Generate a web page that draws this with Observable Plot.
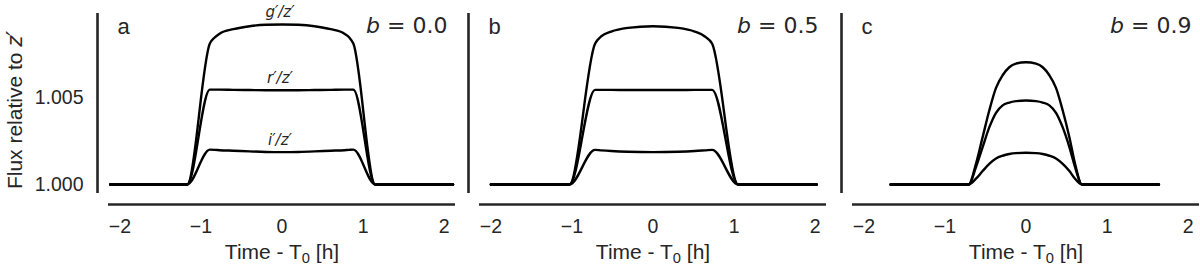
<!DOCTYPE html>
<html>
<head>
<meta charset="utf-8">
<script src="https://cdn.jsdelivr.net/npm/d3@7"></script>
<script src="https://cdn.jsdelivr.net/npm/@observablehq/plot@0.6"></script>
<style>
  html, body { margin: 0; padding: 0; background: #fff; }
  #chart { position: relative; width: 1200px; height: 269px; overflow: hidden; background: #fff; }
  #chart svg { position: absolute; top: 0; }
</style>
</head>
<body>
<div id="chart"></div>
<script>
// ---- tick labels / categories ----
const xTicks = [-2, -1, 0, 1, 2];
const yTicks = [1.000, 1.005];
const seriesNames = ["g′/z′", "r′/z′", "i′/z′"];
const panelLetters = ["a", "b", "c"];
const impactParams = ["0.0", "0.5", "0.9"];

// ---- panel a (b = 0.0) ----
const tA = [-2.12, -1.17, -0.89, -0.83, -0.77, -0.6, -0.4, -0.2, 0, 0.2, 0.4, 0.6, 0.77, 0.83, 0.88, 1.15, 2.11];
const gA = [1.0000, 1.0000, 1.00810, 1.00845, 1.00867, 1.00893, 1.00910, 1.00918, 1.00920, 1.00918, 1.00910, 1.00893, 1.00867, 1.00845, 1.00810, 1.0000, 1.0000];
const rA = [1.0000, 1.0000, 1.00545, 1.00545, 1.00545, 1.00544, 1.00543, 1.00542, 1.00542, 1.00542, 1.00543, 1.00544, 1.00545, 1.00545, 1.00545, 1.0000, 1.0000];
const iA = [1.0000, 1.0000, 1.00200, 1.00199, 1.00197, 1.00194, 1.00190, 1.00187, 1.00186, 1.00187, 1.00190, 1.00194, 1.00197, 1.00199, 1.00200, 1.0000, 1.0000];

// ---- panel b (b = 0.5) ----
const tB = [-2.0, -1.03, -0.715, -0.64, -0.515, -0.31, 0, 0.31, 0.515, 0.64, 0.73, 1.05, 2.02];
const gB = [1.0000, 1.0000, 1.00809, 1.00851, 1.00879, 1.00900, 1.00910, 1.00900, 1.00879, 1.00851, 1.00809, 1.0000, 1.0000];
const rB = [1.0000, 1.0000, 1.00544, 1.00544, 1.00544, 1.00543, 1.00543, 1.00543, 1.00544, 1.00544, 1.00544, 1.0000, 1.0000];
const iB = [1.0000, 1.0000, 1.00199, 1.00196, 1.00192, 1.00188, 1.00186, 1.00188, 1.00192, 1.00196, 1.00199, 1.0000, 1.0000];

// ---- panel c (b = 0.9) ----
const tC = [-1.67, -0.707, -0.617, -0.535, -0.453, -0.370, -0.288, -0.206, -0.123, 0, 0.123, 0.206, 0.288, 0.370, 0.453, 0.535, 0.605, 0.69, 1.64];
const gC = [1.0000, 1.0000, 1.00119, 1.00272, 1.00425, 1.00555, 1.00628, 1.00674, 1.00695, 1.00703, 1.00695, 1.00674, 1.00628, 1.00555, 1.00425, 1.00272, 1.00119, 1.0000, 1.0000];
const rC = [1.0000, 1.0000, 1.00100, 1.00215, 1.00328, 1.00412, 1.00455, 1.00471, 1.00479, 1.00483, 1.00479, 1.00471, 1.00455, 1.00412, 1.00328, 1.00215, 1.00100, 1.0000, 1.0000];
const iC = [1.0000, 1.0000, 1.00033, 1.00077, 1.00118, 1.00149, 1.00165, 1.00175, 1.00180, 1.00182, 1.00180, 1.00175, 1.00165, 1.00149, 1.00118, 1.00077, 1.00033, 1.0000, 1.0000];

// ---- styling ----
const INK = "#262626";
const SANS = "'Liberation Sans', Arial, Helvetica, sans-serif";
const MATH = "'DejaVu Sans', sans-serif";
const X_DOMAIN = [-2.14, 2.14];
const Y_DOMAIN = [0.99948, 1.00983];
const INNER_W = 347;
const HEIGHT = 269, MT = 13, MB = 76;
const TICK_FS = 19.5;

const panels = [
  {t: tA, cols: [gA, rA, iA], left: 0,   marginLeft: 108, marginRight: 5, yAxis: true,  labels: true},
  {t: tB, cols: [gB, rB, iB], left: 460, marginLeft: 19,  marginRight: 4, yAxis: false, labels: false},
  {t: tC, cols: [gC, rC, iC], left: 830, marginLeft: 22,  marginRight: 1, yAxis: false, labels: false}
];

const fmtX = d => (d < 0 ? "\u2212" + (-d) : String(d));

const chart = document.getElementById("chart");

panels.forEach((p, k) => {
  const rows = [];
  p.cols.forEach((vals, j) => vals.forEach((f, n) => rows.push({t: p.t[n], f, s: seriesNames[j]})));
  const zeroIdx = p.t.indexOf(0);
  const labelRows = p.labels ? p.cols.map((vals, j) => ({t: p.t[zeroIdx], f: vals[zeroIdx], s: seriesNames[j]})) : [];

  const marks = [
    Plot.ruleX([X_DOMAIN[0]], {y1: Y_DOMAIN[0], y2: Y_DOMAIN[1], dx: -11, stroke: INK, strokeWidth: 2.6}),
    Plot.ruleY([Y_DOMAIN[0]], {x1: X_DOMAIN[0], x2: X_DOMAIN[1], dy: 11, stroke: INK, strokeWidth: 2.6}),
    Plot.axisX({ticks: xTicks, tickSize: 0, tickPadding: 26, tickFormat: fmtX, fontSize: TICK_FS, label: null}),
    Plot.line(rows, {x: "t", y: "f", z: "s", stroke: "#000", strokeWidth: 2.4, curve: "monotone-x"}),
    Plot.text(labelRows, {x: "t", y: "f", text: "s", lineAnchor: "bottom", dy: -7, dx: -2,
      fontSize: 15, fontFamily: MATH, fontStyle: "italic", fill: INK}),
    Plot.text([panelLetters[k]], {frameAnchor: "top-left", lineAnchor: "bottom", dx: 9, dy: 20.5, fontSize: 22, fill: INK}),
    Plot.text(["b = " + impactParams[k]], {frameAnchor: "top-right", lineAnchor: "bottom", dx: -8, dy: 19,
      fontSize: 22, fontFamily: MATH, fill: INK}),
    Plot.text(["Time - T0 [h]"], {frameAnchor: "bottom", lineAnchor: "bottom", dy: 65, fontSize: 21, fill: INK})
  ];
  if (p.yAxis) {
    marks.push(Plot.axisY({ticks: yTicks, tickSize: 0, tickPadding: 25, tickFormat: d => d.toFixed(3), fontSize: TICK_FS, label: null}));
  }

  const svg = Plot.plot({
    width: p.marginLeft + INNER_W + p.marginRight,
    height: HEIGHT,
    marginTop: MT, marginBottom: MB,
    marginLeft: p.marginLeft, marginRight: p.marginRight,
    x: {domain: X_DOMAIN},
    y: p.yAxis ? {domain: Y_DOMAIN} : {domain: Y_DOMAIN, axis: null},
    style: {fontFamily: SANS, fontSize: TICK_FS + "px", color: INK, background: "transparent", overflow: "visible"},
    marks
  });
  svg.style.left = p.left + "px";
  chart.appendChild(svg);

  const s = d3.select(svg);
  // italic b in "b = x.x"
  s.selectAll("text").filter(function() { return this.textContent.startsWith("b = "); }).each(function() {
    const el = d3.select(this);
    const rest = this.textContent.slice(1);
    el.text("");
    el.append("tspan").attr("font-style", "italic").text("b");
    el.append("tspan").text(rest);
  });
  // subscript in "Time - T0 [h]"
  s.selectAll("text").filter(function() { return this.textContent === "Time - T0 [h]"; }).each(function() {
    const el = d3.select(this);
    el.text("");
    el.append("tspan").text("Time - T");
    el.append("tspan").attr("font-size", "0.7em").attr("dy", "0.3em").text("0");
    el.append("tspan").attr("dy", "-0.21em").text(" [h]");
  });
  // y label on first panel
  if (p.yAxis) {
    const yl = s.append("text")
      .attr("transform", "translate(22,110) rotate(-90)")
      .attr("text-anchor", "middle")
      .attr("font-size", 21)
      .attr("fill", INK)
      .attr("font-family", SANS);
    yl.append("tspan").text("Flux relative to ");
    yl.append("tspan").attr("font-family", MATH).attr("font-style", "italic").text("z′");
  }
});
</script>
</body>
</html>
